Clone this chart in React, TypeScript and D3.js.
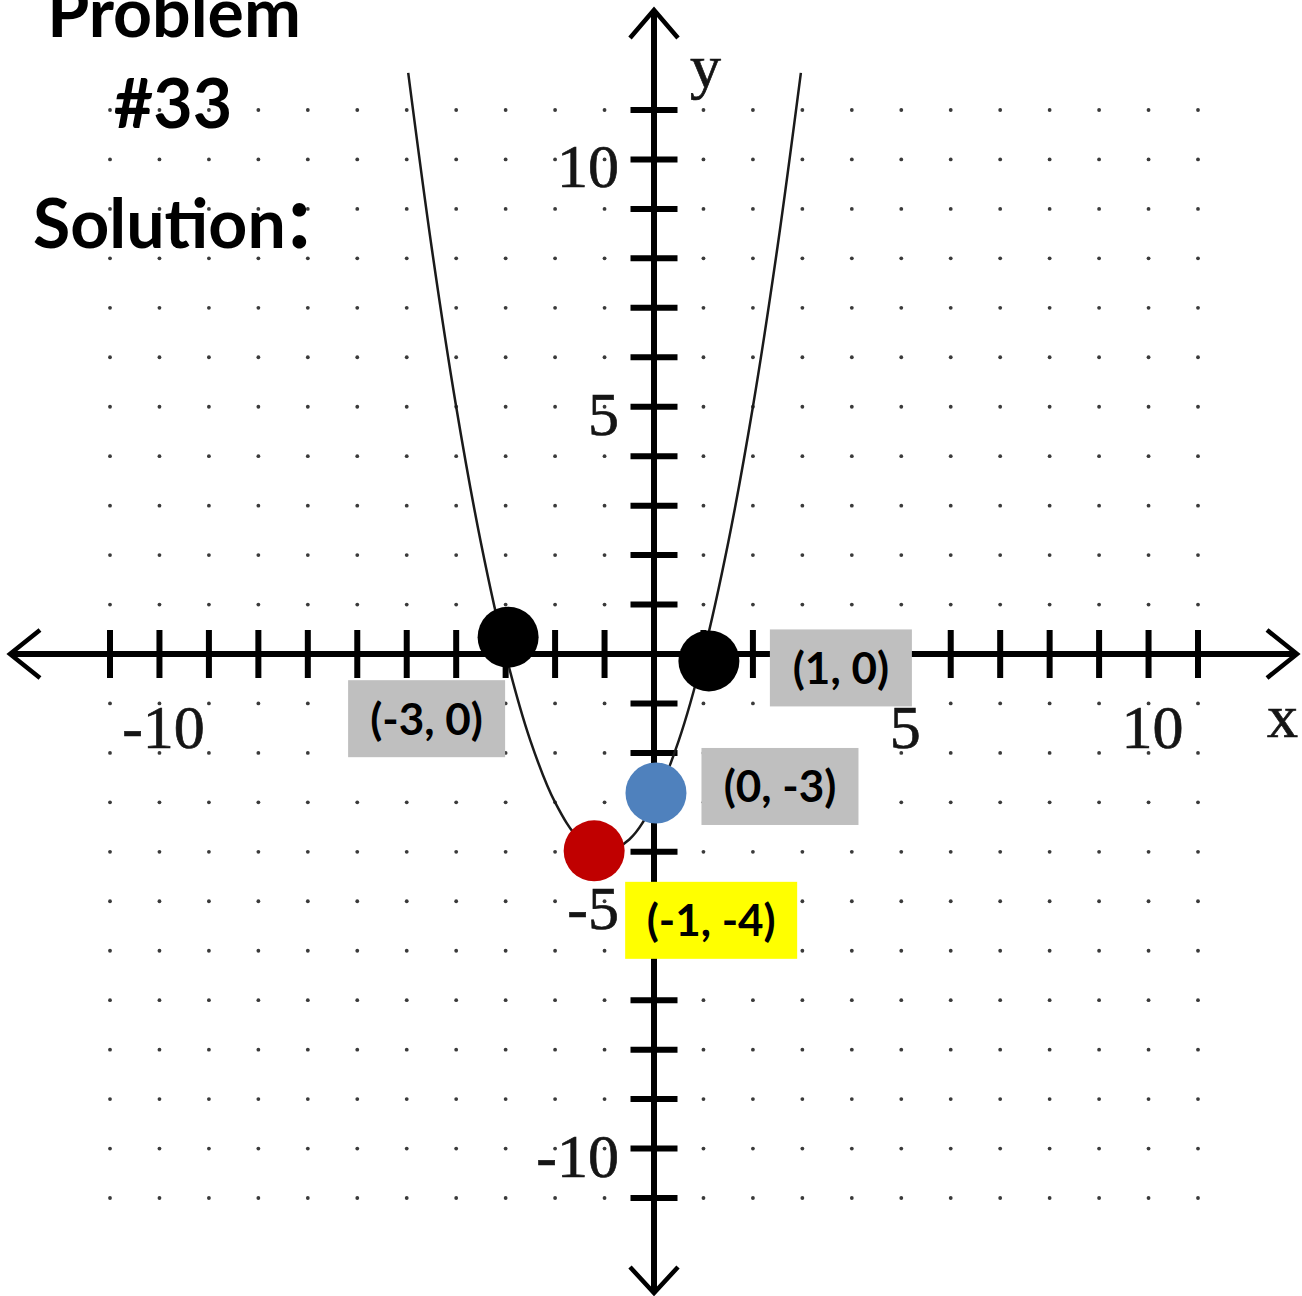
import React from 'react';
import * as d3 from 'd3';

// ---- data ----
const gridSteps = d3.range(-11, 12);            // dot grid / tick positions (integers -11..11)
const xTickLabels = [-10, 5, 10];
const yTickLabels = [10, 5, -5, -10];

// parabola points (y = x^2 + 2x - 3)
const curveX = [-4.97, -4.5, -4, -3.5, -3, -2.5, -2, -1.5, -1, -0.5, 0, 0.5, 1, 1.5, 2, 2.5, 2.97];
const curveY = [11.75, 8.25, 5, 2.25, 0, -1.75, -3, -3.75, -4, -3.75, -3, -1.75, 0, 2.25, 5, 8.25, 11.75];

// marker centres as drawn in the picture
const markerX = [-2.95, 1.11, 0.04, -1.21];
const markerY = [0.34, -0.14, -2.81, -3.98];
const markerColor = ['#000000', '#000000', '#4f81bd', '#c00000'];
const markerLabel = ['(-3, 0)', '(1, 0)', '(0, -3)', '(-1, -4)'];
const labelFill = ['#bfbfbf', '#bfbfbf', '#bfbfbf', '#ffff00'];

const titleLines = ['Problem', '#33', 'Solution'];

export default function App() {
  const W = 1302;
  const H = 1296;
  const x = d3.scaleLinear().domain([-11, 11]).range([110, 1198]);
  const y = d3.scaleLinear().domain([-11, 11]).range([1198, 110]);
  const ox = x(0);
  const oy = y(0);

  const line = d3
    .line<number>()
    .x((_, i) => x(curveX[i]))
    .y((_, i) => y(curveY[i]))
    .curve(d3.curveCatmullRom.alpha(0.5));

  const labelLayout = [
    { dx: -81.5, dy: 81.5, w: 157 },
    { dx: 132, dy: 7, w: 142 },
    { dx: 124, dy: -6.5, w: 157 },
    { dx: 117, dy: 69.5, w: 172 },
  ];
  const boxH = 77;
  const serif = "'Liberation Serif', 'Times New Roman', serif";
  const sans = "Lato, 'Open Sans', sans-serif";

  const axisL = x.range()[0] - 100;
  const axisR = x.range()[1] + 99;
  const axisT = y.range()[1] - 100;
  const axisB = y.range()[0] + 95;

  return (
    <svg
      width={W}
      height={H}
      viewBox={`0 0 ${W} ${H}`}
      style={{ position: 'absolute', left: 0, top: 0, background: '#fff' }}
    >
      <rect x={0} y={0} width={W} height={H} fill="#fff" />
      {/* dot grid */}
      <g fill="#3a3a3a">
        {gridSteps.map((gx) =>
          gridSteps.map((gy) => (
            <circle key={`${gx}_${gy}`} cx={x(gx)} cy={y(gy)} r={1.9} />
          ))
        )}
      </g>

      {/* axes */}
      <g stroke="#000" fill="none">
        <line x1={axisL + 2} y1={oy} x2={axisR - 2} y2={oy} strokeWidth={6} />
        <line x1={ox} y1={axisT + 2} x2={ox} y2={axisB - 2} strokeWidth={6} />
        {/* arrowheads */}
        <polyline points={`${axisL + 30},${oy - 24} ${axisL},${oy} ${axisL + 30},${oy + 24}`} strokeWidth={4.5} strokeLinejoin="miter" />
        <polyline points={`${axisR - 30},${oy - 24} ${axisR},${oy} ${axisR - 30},${oy + 24}`} strokeWidth={4.5} strokeLinejoin="miter" />
        <polyline points={`${ox - 24},${axisT + 28} ${ox},${axisT} ${ox + 24},${axisT + 28}`} strokeWidth={4.5} strokeLinejoin="miter" />
        <polyline points={`${ox - 24},${axisB - 26} ${ox},${axisB} ${ox + 24},${axisB - 26}`} strokeWidth={4.5} strokeLinejoin="miter" />
        {/* ticks */}
        {gridSteps.filter((v) => v !== 0).map((v) => (
          <line key={`xt${v}`} x1={x(v)} y1={oy - 24} x2={x(v)} y2={oy + 24} strokeWidth={6} />
        ))}
        {gridSteps.filter((v) => v !== 0).map((v) => (
          <line key={`yt${v}`} x1={ox - 23.5} y1={y(v)} x2={ox + 23.5} y2={y(v)} strokeWidth={6} />
        ))}
      </g>

      {/* tick labels */}
      <g fontFamily={serif} fontSize={62} fill="#151515" stroke="#151515" strokeWidth={0.7}>
        {xTickLabels.map((v) => (
          <text key={`xl${v}`} x={x(v) + 4} y={748} textAnchor="middle">
            {String(v)}
          </text>
        ))}
        {yTickLabels.map((v) => (
          <text key={`yl${v}`} x={ox - 35} y={y(v) + 28} textAnchor="end">
            {String(v)}
          </text>
        ))}
        <text x={ox + 36} y={87}>y</text>
        <text x={x(11) + 69} y={737}>x</text>
      </g>

      {/* parabola */}
      <path d={line(curveX) || ''} fill="none" stroke="#1a1a1a" strokeWidth={2.5} />

      {/* title */}
      <g fontFamily={sans} fontWeight={700} fontSize={68} fill="#000" textAnchor="middle">
        <text x={174} y={37}>{titleLines[0]}</text>
        <text x={173} y={128}>{titleLines[1]}</text>
        <text x={172} y={248}>
          {titleLines[2]}
          <tspan fontSize={90} dx={2}>:</tspan>
        </text>
      </g>

      {/* markers */}
      {markerX.map((mx, i) => (
        <circle key={`m${i}`} cx={x(mx)} cy={y(markerY[i])} r={30.5} fill={markerColor[i]} />
      ))}

      {/* label boxes */}
      {markerLabel.map((lbl, i) => {
        const cx = x(markerX[i]) + labelLayout[i].dx;
        const cy = y(markerY[i]) + labelLayout[i].dy;
        const w = labelLayout[i].w;
        return (
          <g key={`lb${i}`}>
            <rect x={cx - w / 2} y={cy - boxH / 2} width={w} height={boxH} fill={labelFill[i]} />
            <text
              x={cx}
              y={cy}
              dy="0.36em"
              textAnchor="middle"
              fontFamily={sans}
              fontWeight={700}
              fontSize={44}
              fill="#000"
            >
              {lbl}
            </text>
          </g>
        );
      })}
    </svg>
  );
}
